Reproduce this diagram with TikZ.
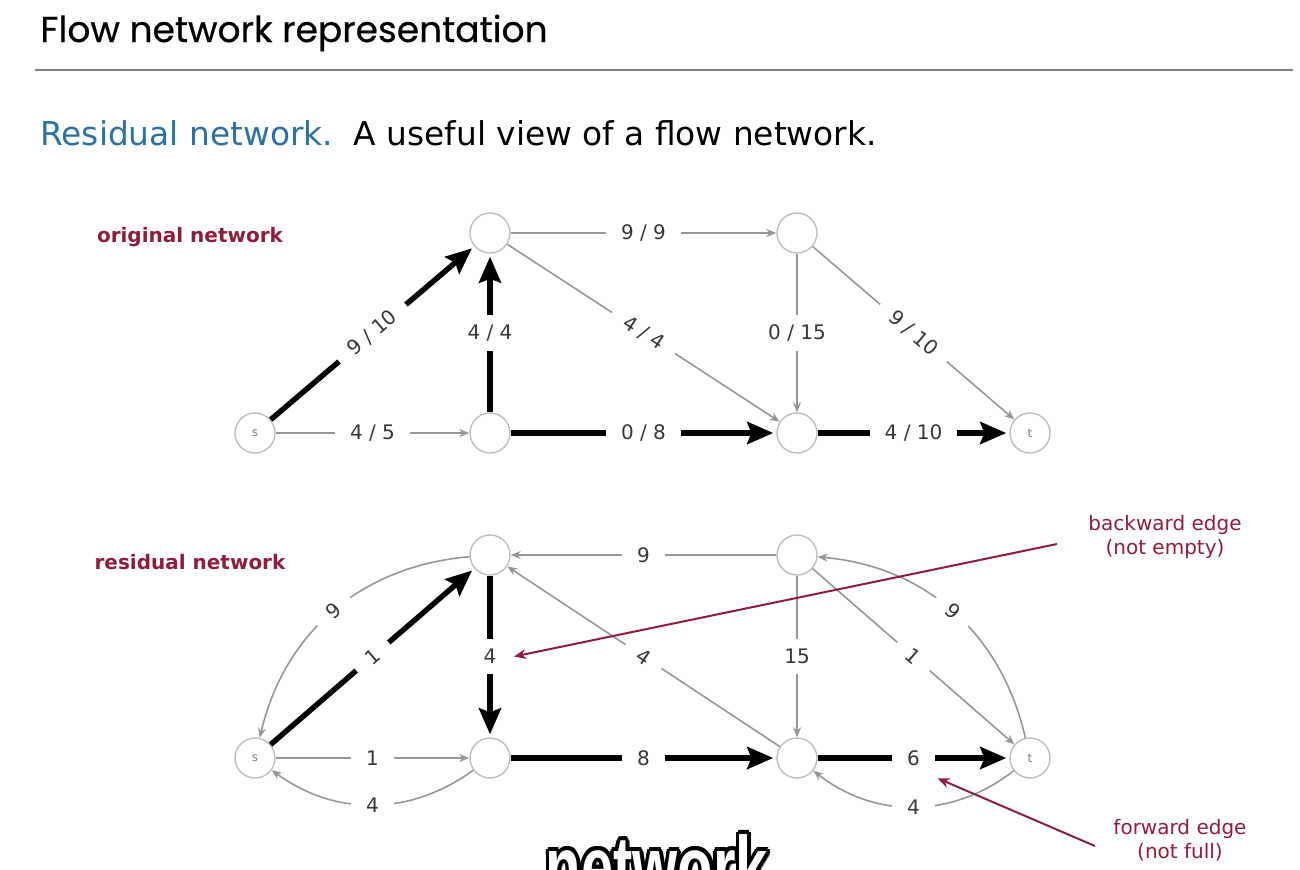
\documentclass[tikz,border=0pt]{standalone}
\usepackage{fontspec}
\setmainfont{DejaVu Sans}
\newfontfamily\titlefont[FakeBold=0.5]{Poppins}
\newfontfamily\subfont{Liberation Sans}
\usetikzlibrary{arrows.meta, positioning}
\definecolor{annot}{RGB}{140,30,60}
\definecolor{resblue}{RGB}{45,112,160}
\definecolor{edgegray}{RGB}{150,150,150}
\definecolor{ringgray}{RGB}{190,190,190}
\definecolor{lblgray}{RGB}{55,55,55}

\tikzset{
	vert/.style={circle, draw=ringgray, line width=0.7pt, fill=white, minimum size=20pt, inner sep=0pt, text=gray, font=\fontsize{6}{6}\selectfont},
	flow/.style={draw=edgegray, line width=0.8pt, -{Stealth[length=5pt,width=4pt]}},
	full/.style={draw=black, line width=2.7pt, -{Stealth[length=13pt,width=11pt,inset=2pt]}, shorten >=1.5pt},
	lbl/.style={fill=white, inner xsep=7.5pt, inner ysep=5pt, text=lblgray, font=\fontsize{10}{10}\selectfont},
	heading/.style={text=annot, font=\bfseries\fontsize{10}{12}\selectfont},
	note/.style={text=annot, align=center, font=\fontsize{10}{12}\selectfont},
	pointer/.style={draw=annot, line width=1pt, -{Stealth[length=6pt,width=5pt]}},
	subtitle/.style={inner sep=0pt, anchor=base, font=\subfont\bfseries\fontsize{29}{30}\selectfont}
}

\begin{document}
\begin{tikzpicture}[x=0.5pt, y=-0.5pt]
	\useasboundingbox (0,0) rectangle (1300,869);
	\clip (0,0) rectangle (1300,869);

	\node[anchor=base west, inner sep=0pt, font=\titlefont\fontsize{18}{20}\selectfont] (title) at (40,42) {Flow network representation};
	\draw[gray, line width=1pt] (35,70) -- (1293,70);
	\node[anchor=base west, inner sep=0pt, font=\fontsize{16.4}{19}\selectfont] (intro) at (40,145) {\textcolor{resblue}{Residual network.}\ \ A useful view of a flow network.};

	% original network
	\node[heading] (ohead) at (190,237) {original network};
	\draw (255,433) node[vert] (os) {s}
	(490,233) node[vert] (oul) {}
	(797,233) node[vert] (our) {}
	(490,433) node[vert] (oll) {}
	(797,433) node[vert] (olr) {}
	(1030,433) node[vert] (ot) {t};

	\draw[full] (os) -- node[lbl, sloped] {9 / 10} (oul);
	\draw[flow] (os) -- node[lbl] {4 / 5} (oll);
	\draw[full] (oll) -- node[lbl] {4 / 4} (oul);
	\draw[flow] (oul) -- node[lbl] {9 / 9} (our);
	\draw[flow] (oul) -- node[lbl, sloped] {4 / 4} (olr);
	\draw[full] (oll) -- node[lbl] {0 / 8} (olr);
	\draw[flow] (our) -- node[lbl] {0 / 15} (olr);
	\draw[flow] (our) -- node[lbl, sloped] {9 / 10} (ot);
	\draw[full] (olr) -- node[lbl] {4 / 10} (ot);

	% residual network
	\node[heading] (rhead) at (190,562) {residual network};
	\draw (255,758) node[vert] (rs) {s}
	(490,555) node[vert] (rul) {}
	(797,555) node[vert] (rur) {}
	(490,758) node[vert] (rll) {}
	(797,758) node[vert] (rlr) {}
	(1030,758) node[vert] (rt) {t};

	\draw[full] (rs) -- node[lbl, sloped] {1} (rul);
	\draw[flow] (rul) to[bend right=36] node[lbl, sloped] {9} (rs);
	\draw[flow] (rs) -- node[lbl] {1} (rll);
	\draw[flow] (rll) to[bend left=36] node[lbl] {4} (rs);
	\draw[full] (rul) -- node[lbl] (back4) {4} (rll);
	\draw[flow] (rur) -- node[lbl] {9} (rul);
	\draw[flow] (rlr) -- node[lbl, sloped] {4} (rul);
	\draw[full] (rll) -- node[lbl] {8} (rlr);
	\draw[flow] (rur) -- node[lbl] {15} (rlr);
	\draw[flow] (rur) -- node[lbl, sloped] {1} (rt);
	\draw[flow] (rt) to[bend right=36] node[lbl, sloped] {9} (rur);
	\draw[full] (rlr) -- node[lbl] (fwd6) {6} (rt);
	\draw[flow] (rt) to[bend left=38] node[lbl] {4} (rlr);

	% annotations
	\node[note] (bwd) at (1165,537) {backward edge\\(not empty)};
	\node[note] (fwd) at (1180,840) {forward edge\\(not full)};
	\coordinate (bwdtail) at (1057,544);
	\coordinate (fwdtail) at (1095,846);
	\draw[pointer] (bwdtail) -- (back4.east);
	\draw[pointer] (fwdtail) -- (fwd6.south east);

	% caption overlay
	\node[subtitle, text=gray] (subshadow) at (661,900) {\scalebox{1}[1.5]{network}};
	\foreach \ang in {0,30,...,330}
		\node[subtitle, text=black] (sub\ang) at ([shift={(\ang:1.8pt)}]657,897) {\scalebox{1}[1.5]{network}};
	\node[subtitle, text=white] (sub) at (657,897) {\scalebox{1}[1.5]{network}};
\end{tikzpicture}
\end{document}
